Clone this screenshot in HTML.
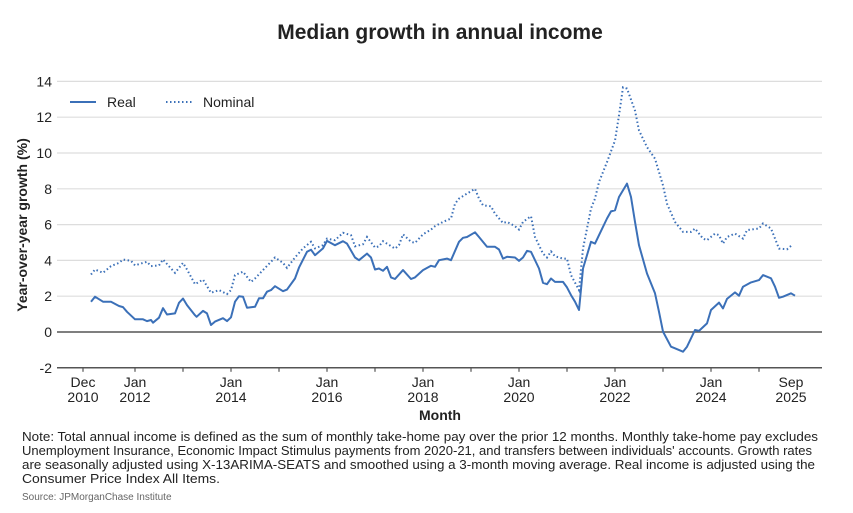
<!DOCTYPE html>
<html><head><meta charset="utf-8"><style>
body{margin:0;background:#fff;font-family:"Liberation Sans",sans-serif;}
svg text{font-family:"Liberation Sans",sans-serif;fill:#222;}
</style></head><body>
<svg width="853" height="508" viewBox="0 0 853 508">
<text x="440" y="39" text-anchor="middle" font-size="21" font-weight="bold">Median growth in annual income</text>
<g id="grid"></g>
<g id="yticks"></g>
<g id="xticks"></g>
<text transform="translate(27,225) rotate(-90)" text-anchor="middle" font-size="14" font-weight="bold">Year-over-year growth (%)</text>
<text x="440" y="420" text-anchor="middle" font-size="14" font-weight="bold">Month</text>
<g>
<line x1="70" y1="102" x2="96" y2="102" stroke="#3b70b8" stroke-width="2"/>
<text x="107" y="107" font-size="14">Real</text>
<line x1="166" y1="102" x2="192" y2="102" stroke="#3b70b8" stroke-width="2" stroke-dasharray="1.5,2.5"/>
<text x="203" y="107" font-size="14">Nominal</text>
</g>
<path id="nominal" fill="none" stroke="#3b70b8" stroke-width="2" stroke-dasharray="1.5,2.5"/>
<path id="real" fill="none" stroke="#3b70b8" stroke-width="2" stroke-linejoin="round"/>
<g font-size="12.5">
<text x="22" y="441" textLength="796" lengthAdjust="spacingAndGlyphs">Note: Total annual income is defined as the sum of monthly take-home pay over the prior 12 months. Monthly take-home pay excludes</text>
<text x="22" y="455" textLength="790" lengthAdjust="spacingAndGlyphs">Unemployment Insurance, Economic Impact Stimulus payments from 2020-21, and transfers between individuals' accounts. Growth rates</text>
<text x="22" y="469" textLength="793" lengthAdjust="spacingAndGlyphs">are seasonally adjusted using X-13ARIMA-SEATS and smoothed using a 3-month moving average. Real income is adjusted using the</text>
<text x="22" y="483" textLength="198" lengthAdjust="spacingAndGlyphs">Consumer Price Index All Items.</text>
</g>
<text x="22" y="500" font-size="10" style="fill:#666">Source: JPMorganChase Institute</text>
</svg>
<script>
const yTicks=[-2,0,2,4,6,8,10,12,14];
const xTickLabels=[["Dec","2010",0],["Jan","2012",13],["Jan","2014",37],["Jan","2016",61],["Jan","2018",85],["Jan","2020",109],["Jan","2022",133],["Jan","2024",157],["Sep","2025",177]];
const realMonths=[2,3,5,7,9,10,11,13,15,16,17,17.5,19,20,21,23,24,25,26,28,28.4,30,31,32,33,35,36,37,38,39,40,41,43,44,45,46,47,48,50,51,53,54,56,57,58,60,61,63,65,66,68,69,71,72,73,74,75,76,77,78,80,82,83,85,87,88,89,91,92,94,95,96,98,99,101,103,104,105,106,108,109,110,111,112,114,115,116,117,118,120,121,122,123,124,125,127,128,129,131,132,133,134,136,137,138,139,141,143,144,145,147,148,150,151,153,154,156,157,159,160,161,163,164,165,167,169,170,172,173,174,175,177,178];
const realVals=[1.69,1.97,1.69,1.69,1.45,1.39,1.13,0.71,0.71,0.61,0.67,0.52,0.8,1.33,0.98,1.04,1.63,1.87,1.5,0.94,0.85,1.18,1.04,0.39,0.58,0.77,0.61,0.82,1.69,2.0,1.97,1.36,1.41,1.88,1.88,2.25,2.34,2.56,2.28,2.37,2.99,3.6,4.48,4.6,4.29,4.67,5.09,4.85,5.07,4.94,4.16,4.01,4.38,4.16,3.49,3.55,3.42,3.64,3.05,2.96,3.46,2.96,3.05,3.46,3.7,3.64,4.01,4.1,4.01,5.04,5.26,5.31,5.57,5.31,4.76,4.76,4.61,4.1,4.2,4.16,3.98,4.16,4.53,4.48,3.55,2.75,2.67,2.99,2.8,2.8,2.49,2.06,1.69,1.23,3.55,5.04,4.94,5.41,6.34,6.74,6.8,7.54,8.29,7.54,6.15,4.85,3.27,2.16,1.13,0.02,-0.82,-0.91,-1.1,-0.82,0.11,0.06,0.48,1.23,1.64,1.32,1.85,2.21,2.03,2.53,2.77,2.9,3.18,3.0,2.53,1.91,1.97,2.16,2.03];
const nomMonths=[2,3,5,7,9,10,12,13,15,16,17,19,20,22,23,25,26,28,30,32,34,36,37,38,40,42,43,45,47,48,50,51,53,55,57,58,60,61,63,65,67,68,70,71,73,74,75,78,79,80,82,83,85,87,88,90,92,93,94,96,98,99,100,102,103,105,106,108,109,110,112,113,115,116,117,118,120,121,122,124,125,127,128,129,131,133,134,135,136,138,139,141,143,145,146,148,150,152,153,155,156,158,159,160,161,163,165,166,169,170,172,174,176,177];
const nomVals=[3.21,3.49,3.31,3.68,3.86,4.05,3.98,3.72,3.86,3.92,3.68,3.72,4.05,3.55,3.31,3.86,3.49,2.67,2.93,2.19,2.34,2.12,2.34,3.18,3.37,2.8,2.99,3.46,3.92,4.16,3.86,3.58,4.16,4.67,5.04,4.67,4.85,5.22,5.13,5.54,5.41,4.79,4.9,5.31,4.72,4.79,5.07,4.66,4.85,5.46,5.04,4.98,5.46,5.72,5.91,6.15,6.34,7.17,7.45,7.73,8.0,7.45,7.08,7.02,6.61,6.09,6.15,5.91,5.72,6.15,6.47,5.31,4.38,4.16,4.5,4.23,4.1,4.1,3.18,2.34,4.66,6.9,7.45,8.38,9.49,10.7,12.1,13.67,13.6,12.37,11.26,10.33,9.68,8.19,7.17,6.15,5.59,5.59,5.78,5.22,5.13,5.5,5.41,4.94,5.31,5.5,5.22,5.69,5.78,6.06,5.78,4.66,4.62,4.81];
const NS="http://www.w3.org/2000/svg";
const x0=83,pxPerMonth=4,yZero=332,pxPerUnit=17.9,left=57,right=822;
function xs(m){return x0+m*pxPerMonth;}
function ys(v){return yZero-v*pxPerUnit;}
const grid=document.getElementById('grid'),yt=document.getElementById('yticks'),xt=document.getElementById('xticks');
yTicks.forEach(v=>{
 const l=document.createElementNS(NS,'line');
 l.setAttribute('x1',left);l.setAttribute('x2',right);l.setAttribute('y1',ys(v));l.setAttribute('y2',ys(v));
 const dark=(v===0||v===-2);
 l.setAttribute('stroke',dark?'#555':'#ddd');l.setAttribute('stroke-width',dark?1.5:1.2);
 
 
 grid.appendChild(l);
 const t=document.createElementNS(NS,'text');
 t.setAttribute('x',52);t.setAttribute('y',ys(v)+5);t.setAttribute('text-anchor','end');t.setAttribute('font-size','14');
 t.textContent=v;
 
 
 yt.appendChild(t);
});
for(let m=0;m<=180;m+=12){
 const mm=m===0?0:m+1;
 if(mm>178)break;
 const l=document.createElementNS(NS,'line');
 l.setAttribute('x1',xs(mm));l.setAttribute('x2',xs(mm));l.setAttribute('y1',ys(-2));l.setAttribute('y2',ys(-2)+4);
 l.setAttribute('stroke','#555');l.setAttribute('stroke-width',1.2);
 
 
 xt.appendChild(l);
}
xTickLabels.forEach(d=>{
 [0,1].forEach(i=>{
  const t=document.createElementNS(NS,'text');
  t.setAttribute('x',xs(d[2]));t.setAttribute('y',ys(-2)+19+i*15);t.setAttribute('text-anchor','middle');t.setAttribute('font-size','14');
  t.textContent=d[i];
  
  
  xt.appendChild(t);
 });
});
function path(ms,vs){return ms.map((m,i)=>(i?'L':'M')+xs(m).toFixed(1)+','+ys(vs[i]).toFixed(1)).join('');}
document.getElementById('real').setAttribute('d',path(realMonths,realVals));
document.getElementById('nominal').setAttribute('d',path(nomMonths,nomVals));
</script>
</body></html>
